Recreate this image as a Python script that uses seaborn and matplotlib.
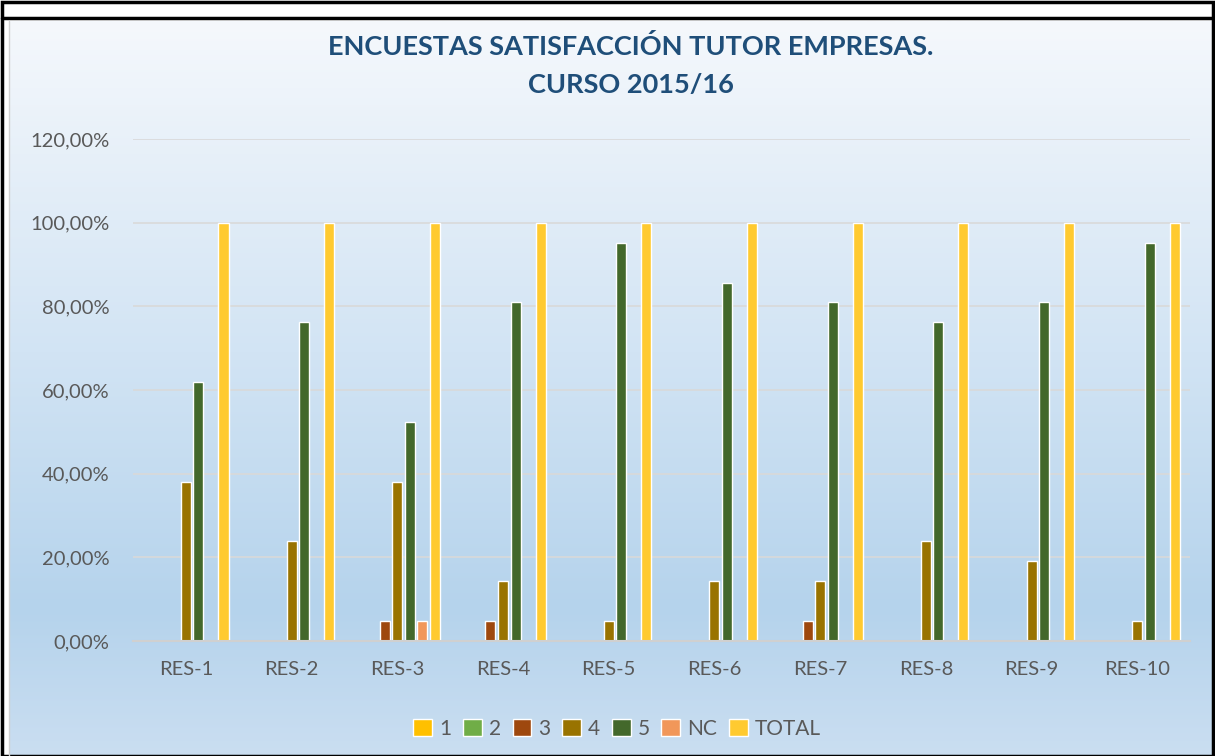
"""
Encuestas satisfaccion tutor empresas - grouped bar chart
"""

import numpy as np
import pandas as pd
import matplotlib
matplotlib.use("Agg")
import matplotlib.pyplot as plt
import seaborn as sns
from matplotlib.colors import LinearSegmentedColormap
from matplotlib.ticker import FuncFormatter
from matplotlib.patches import Rectangle

# ── Data ───────────────────────────────────────────────────────────
categories = ["RES-1", "RES-2", "RES-3", "RES-4", "RES-5",
              "RES-6", "RES-7", "RES-8", "RES-9", "RES-10"]
series = ["1", "2", "3", "4", "5", "NC", "TOTAL"]

v1    = [0, 0, 0, 0, 0, 0, 0, 0, 0, 0]
v2    = [0, 0, 0, 0, 0, 0, 0, 0, 0, 0]
v3    = [0, 0, 4.76, 4.76, 0, 0, 4.76, 0, 0, 0]
v4    = [38.10, 23.81, 38.10, 14.29, 4.76, 14.29, 14.29, 23.81, 19.05, 4.76]
v5    = [61.90, 76.19, 52.38, 80.95, 95.24, 85.71, 80.95, 76.19, 80.95, 95.24]
v_nc  = [0, 0, 4.76, 0, 0, 0, 0, 0, 0, 0]
total = [100, 100, 100, 100, 100, 100, 100, 100, 100, 100]

colors = ["#ffc000", "#70ad47", "#9e480e", "#997300", "#43682b", "#f1975a", "#ffca30"]

rows = []
for s, vals in zip(series, [v1, v2, v3, v4, v5, v_nc, total]):
    for c, v in zip(categories, vals):
        rows.append({"cat": c, "serie": s, "val": v})
df = pd.DataFrame(rows)

# ── Figure ─────────────────────────────────────────────────────────
sns.set_style("white")
plt.rcParams["font.family"] = ["Lato", "DejaVu Sans"]

fig = plt.figure(figsize=(12.15, 7.56), dpi=100)

# gradient background for the chart area
bg = fig.add_axes([0.007, 0.0, 0.993, 0.972], zorder=-10)
cmap = LinearSegmentedColormap.from_list(
    "bg", [(0.0, "#cadef1"), (0.2, "#b5d3ec"), (0.55, "#d2e4f4"), (1.0, "#f5f8fc")])
grad = np.linspace(0, 1, 256).reshape(-1, 1)
bg.imshow(grad, aspect="auto", cmap=cmap, origin="lower", extent=[0, 1, 0, 1])
bg.set_axis_off()

# black frame and top strip
fig.add_artist(Rectangle((0.002, 0.0), 0.996, 0.998, transform=fig.transFigure,
                         fill=False, edgecolor="black", linewidth=2.5))
fig.add_artist(plt.Line2D([0.002, 0.998], [0.976, 0.976], transform=fig.transFigure,
                          color="black", linewidth=2.5))
fig.add_artist(plt.Line2D([0.007, 0.007], [0.0, 0.972], transform=fig.transFigure,
                          color="#d0d0d0", linewidth=1))

ax = fig.add_axes([0.1095, 0.152, 0.870, 0.664])
ax.set_facecolor("none")

sns.barplot(data=df, x="cat", y="val", hue="serie", order=categories,
            hue_order=series, palette=colors, width=0.83, gap=0.2,
            errorbar=None, ax=ax, legend=True, saturation=1)

ax.set_ylim(0, 120)
ax.set_yticks(np.arange(0, 121, 20))
ax.yaxis.set_major_formatter(FuncFormatter(lambda v, p: f"{v:.2f}%".replace(".", ",")))
ax.grid(axis="y", color="#d9d9d9", linewidth=1.2)
ax.set_axisbelow(True)
for sp in ["top", "right", "left"]:
    ax.spines[sp].set_visible(False)
ax.spines["bottom"].set_color("#d0d0d0")
ax.spines["bottom"].set_linewidth(1.5)
ax.tick_params(axis="both", length=0, labelsize=14.5, labelcolor="#595959")
ax.tick_params(axis="x", pad=14)
ax.tick_params(axis="y", pad=17)
ax.set_xlabel("")
ax.set_ylabel("")

leg = ax.legend(loc="center", bbox_to_anchor=(0.458, -0.175), ncol=7, frameon=False,
                fontsize=15, handlelength=0.9, handleheight=0.9, handletextpad=0.35,
                columnspacing=0.55)
for t in leg.get_texts():
    t.set_color("#595959")

fig.text(0.519, 0.938, "ENCUESTAS SATISFACCIÓN TUTOR EMPRESAS.",
         ha="center", va="center", fontsize=19.5, fontweight="bold", color="#1f4e79")
fig.text(0.519, 0.887, "CURSO 2015/16",
         ha="center", va="center", fontsize=19.5, fontweight="bold", color="#1f4e79")

fig.savefig("out.png", dpi=100)
plt.close(fig)
